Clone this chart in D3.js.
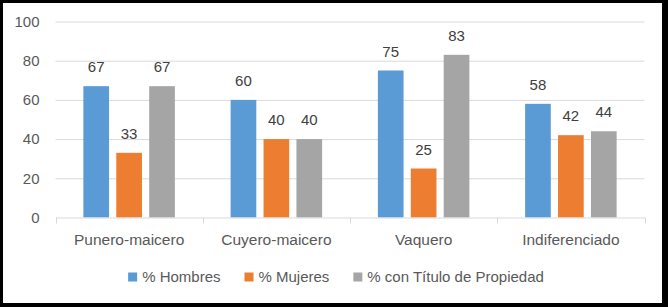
<!DOCTYPE html>
<html><head><meta charset="utf-8">
<script src="https://cdn.jsdelivr.net/npm/d3@7"></script>
<style>
html,body{margin:0;padding:0;background:#fff;}
svg{display:block;font-family:"Liberation Sans",Arial,sans-serif;}
</style></head>
<body>
<svg id="c" width="668" height="307"></svg>
<script>
const categories = ["Punero-maicero","Cuyero-maicero","Vaquero","Indiferenciado"];
const seriesNames = ["% Hombres","% Mujeres","% con Título de Propiedad"];
const hombres = [67, 60, 75, 58];
const mujeres = [33, 40, 25, 42];
const titulo = [67, 40, 83, 44];
const yTicks = [0, 20, 40, 60, 80, 100];
const colors = ["#5B9BD5","#ED7D31","#A5A5A5"];

(function(){
const seriesValues = [hombres, mujeres, titulo];
const svg = d3.select("#c");
const W = 668, H = 307;

// frame
svg.append("rect").attr("x",0).attr("y",0).attr("width",W).attr("height",H).attr("fill","#000");
svg.append("rect").attr("x",3).attr("y",3).attr("width",659).attr("height",300).attr("fill","#fff");

const pL = 55.5, pR = 644.5, pT = 21.5, pB = 217.5;
const y = d3.scaleLinear().domain([0,100]).range([pB, pT]);
const x0 = d3.scaleBand().domain(categories).range([pL, pR]).paddingInner(0).paddingOuter(0);
const groupW = 91.5;
const x1 = d3.scaleBand().domain(seriesNames).range([0, groupW]).paddingInner(0.22).paddingOuter(0);

// gridlines
const yAxis = d3.axisLeft(y).tickValues(yTicks).tickSize(-(pR-pL)).tickPadding(16);
const gy = svg.append("g").attr("transform",`translate(${pL},0)`).call(yAxis);
gy.select(".domain").remove();
gy.selectAll(".tick line").attr("stroke","#d9d9d9").attr("stroke-width",1)
  .attr("display", d => d === 0 ? "none" : null);
gy.selectAll(".tick text").attr("fill","#595959").style("font-size","15px")
  .attr("font-family","Liberation Sans, Arial, sans-serif");

// bars
const groups = svg.append("g").selectAll("g").data(categories).join("g")
  .attr("transform", d => `translate(${x0(d) + (x0.bandwidth()-groupW)/2},0)`);
groups.each(function(cat, ci){
  const g = d3.select(this);
  seriesNames.forEach((s, si) => {
    const v = seriesValues[si][ci];
    g.append("rect").attr("x", x1(s)).attr("y", y(v))
      .attr("width", x1.bandwidth()).attr("height", y(0)-y(v)).attr("fill", colors[si]);
    g.append("text").attr("x", x1(s)+x1.bandwidth()/2).attr("y", y(v)-14)
      .attr("text-anchor","middle").attr("fill","#404040").style("font-size","15px").text(v);
  });
});

// x axis
const xAxis = d3.axisBottom(x0).tickSize(0).tickPadding(16);
const gx = svg.append("g").attr("transform",`translate(0,${pB})`).call(xAxis);
gx.select(".domain").attr("stroke","#d9d9d9");
gx.selectAll(".tick text").attr("fill","#595959").style("font-size","15.5px")
  .attr("font-family","Liberation Sans, Arial, sans-serif");
const seps = categories.map(c => x0(c)).concat([pR]);
svg.append("g").selectAll("line").data(seps).join("line")
  .attr("x1", d => Math.round(d)+0.5).attr("x2", d => Math.round(d)+0.5)
  .attr("y1", pB).attr("y2", pB+6).attr("stroke","#d9d9d9");

// legend
const leg = svg.append("g");
const items = leg.selectAll("g").data(seriesNames).join("g");
items.append("rect").attr("width",9).attr("height",9).attr("y",-4.5).attr("fill",(d,i)=>colors[i]);
items.append("text").attr("x",14).attr("y",5).attr("fill","#595959").style("font-size","15px").text(d=>d);
let cx = 0;
const gaps = 24;
items.each(function(){
  const w = 14 + d3.select(this).select("text").node().getComputedTextLength();
  d3.select(this).attr("transform", `translate(${cx},0)`);
  cx += w + gaps;
});
const total = cx - gaps;
leg.attr("transform", `translate(${336 - total/2},277)`);
})();
</script>
</body></html>
